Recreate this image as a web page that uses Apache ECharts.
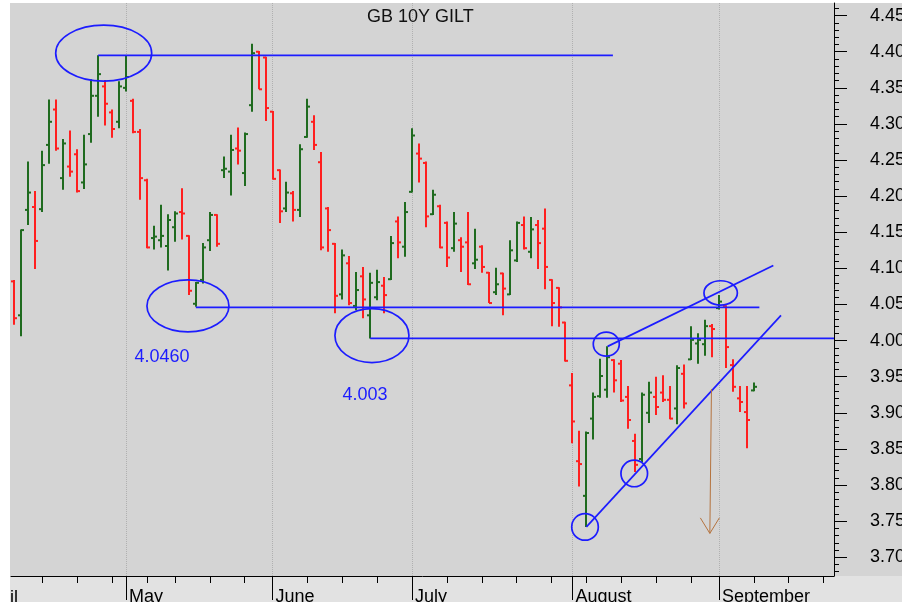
<!DOCTYPE html>
<html>
<head>
<meta charset="utf-8">
<script src="https://cdn.jsdelivr.net/npm/echarts@6/dist/echarts.min.js"></script>
<style>html,body{margin:0;padding:0;background:#fff}#c{width:902px;height:602px}</style>
</head>
<body>
<div id="c"></div>
<script>
// ---- data ----
const dates = [
 '2024-04-09','2024-04-10','2024-04-11','2024-04-12','2024-04-15','2024-04-16','2024-04-17','2024-04-18','2024-04-19','2024-04-22','2024-04-23','2024-04-24','2024-04-25','2024-04-26','2024-04-29','2024-04-30',
 '2024-05-01','2024-05-02','2024-05-03','2024-05-07','2024-05-08','2024-05-09','2024-05-10','2024-05-13','2024-05-14','2024-05-15','2024-05-16','2024-05-17','2024-05-20','2024-05-21','2024-05-22','2024-05-23','2024-05-24','2024-05-28','2024-05-29','2024-05-30','2024-05-31',
 '2024-06-03','2024-06-04','2024-06-05','2024-06-06','2024-06-07','2024-06-10','2024-06-11','2024-06-12','2024-06-13','2024-06-14','2024-06-17','2024-06-18','2024-06-19','2024-06-20','2024-06-21','2024-06-24','2024-06-25','2024-06-26','2024-06-27','2024-06-28',
 '2024-07-01','2024-07-02','2024-07-03','2024-07-04','2024-07-05','2024-07-08','2024-07-09','2024-07-10','2024-07-11','2024-07-12','2024-07-15','2024-07-16','2024-07-17','2024-07-18','2024-07-19','2024-07-22','2024-07-23','2024-07-24','2024-07-25','2024-07-26','2024-07-29','2024-07-30','2024-07-31',
 '2024-08-01','2024-08-02','2024-08-05','2024-08-06','2024-08-07','2024-08-08','2024-08-09','2024-08-12','2024-08-13','2024-08-14','2024-08-15','2024-08-16','2024-08-19','2024-08-20','2024-08-21','2024-08-22','2024-08-23','2024-08-27','2024-08-28','2024-08-29','2024-08-30',
 '2024-09-02','2024-09-03','2024-09-04','2024-09-05','2024-09-06','2024-09-09',
 '2024-09-10','2024-09-11','2024-09-12','2024-09-13','2024-09-16','2024-09-17','2024-09-18','2024-09-19','2024-09-20','2024-09-23','2024-09-24'
];
const opens = [
 4.082,4.035,4.181,4.185,4.182,4.271,4.320,4.225,4.241,4.258,
 4.219,4.286,4.339,4.352,4.316,4.303,4.350,4.332,4.289,4.222,
 4.142,4.139,4.131,4.157,4.178,4.145,4.051,4.084,4.139,4.174,
 4.236,4.234,4.266,4.232,4.326,4.400,4.392,4.317,4.236,4.183,
 4.204,4.181,4.282,4.303,4.247,4.183,4.134,4.064,4.107,4.048,
 4.089,4.035,4.060,4.076,4.085,4.165,4.130,4.206,4.259,4.246,
 4.175,4.186,4.163,4.128,4.139,4.136,4.107,4.130,4.094,4.067,
 4.093,4.064,4.111,4.160,4.123,4.160,4.155,4.084,4.073,4.025,
 3.938,3.833,3.785,3.892,3.923,3.932,3.973,3.968,3.922,3.861,
 3.836,3.900,3.922,3.928,3.918,3.906,3.954,3.974,3.996,3.995,
 4.020,4.045,4.048,3.966,3.920,3.901,3.931
];
const highs = [
 4.084,4.154,4.248,4.207,4.263,4.334,4.334,4.279,4.291,4.265,
 4.285,4.362,4.395,4.361,4.320,4.359,4.395,4.335,4.293,4.224,
 4.159,4.188,4.175,4.179,4.211,4.146,4.081,4.135,4.178,4.175,
 4.255,4.285,4.295,4.288,4.411,4.401,4.393,4.318,4.237,4.220,
 4.207,4.272,4.335,4.312,4.261,4.185,4.135,4.126,4.117,4.095,
 4.102,4.094,4.098,4.088,4.145,4.172,4.192,4.294,4.273,4.248,
 4.209,4.188,4.165,4.178,4.143,4.178,4.155,4.132,4.095,4.101,
 4.094,4.139,4.165,4.172,4.171,4.167,4.183,4.085,4.074,4.026,
 3.955,3.875,3.874,3.928,3.975,3.992,3.974,3.973,3.937,3.871,
 3.928,3.943,3.950,3.952,3.937,3.966,3.967,4.020,4.010,4.029,
 4.023,4.063,4.049,3.974,3.937,3.937,3.942
];
const lows = [
 4.022,4.006,4.160,4.099,4.178,4.245,4.263,4.209,4.227,4.205,
 4.210,4.274,4.310,4.298,4.281,4.294,4.345,4.287,4.195,4.128,
 4.126,4.129,4.097,4.137,4.140,4.063,4.047,4.079,4.124,4.130,
 4.225,4.201,4.244,4.214,4.317,4.348,4.304,4.223,4.163,4.178,
 4.165,4.171,4.281,4.264,4.125,4.123,4.038,4.057,4.049,4.042,
 4.031,4.003,4.056,4.038,4.084,4.114,4.116,4.205,4.219,4.157,
 4.174,4.128,4.102,4.123,4.095,4.077,4.099,4.094,4.052,4.063,
 4.035,4.063,4.109,4.126,4.114,4.099,4.071,4.020,4.019,3.971,
 3.858,3.798,3.742,3.863,3.921,3.921,3.928,3.915,3.878,3.818,
 3.832,3.886,3.897,3.915,3.891,3.884,3.906,3.973,3.968,3.979,
 3.977,4.043,3.962,3.929,3.901,3.851,3.930
];
const closes = [
 4.031,4.153,4.205,4.138,4.243,4.303,4.266,4.273,4.234,4.207,
 4.244,4.339,4.369,4.328,4.293,4.352,4.365,4.289,4.225,4.129,
 4.144,4.145,4.167,4.176,4.176,4.069,4.080,4.129,4.174,4.134,
 4.238,4.264,4.263,4.286,4.398,4.348,4.322,4.224,4.179,4.205,
 4.181,4.265,4.324,4.271,4.129,4.153,4.062,4.118,4.052,4.070,
 4.057,4.080,4.081,4.063,4.135,4.136,4.178,4.284,4.252,4.172,
 4.202,4.129,4.115,4.162,4.130,4.078,4.112,4.102,4.052,4.078,
 4.072,4.125,4.163,4.128,4.154,4.135,4.102,4.052,4.046,3.972,
 3.888,3.829,3.872,3.922,3.951,3.977,3.945,3.917,3.890,3.828,
 3.925,3.928,3.908,3.918,3.892,3.962,3.913,4.001,4.001,4.020,
 4.016,4.054,3.991,3.936,3.915,3.890,3.936
];
const monthNames = {'04':'April','05':'May','06':'June','07':'July','08':'August','09':'September'};
const yTickLabels = ['3.70','3.75','3.80','3.85','3.90','3.95','4.00','4.05','4.10','4.15','4.20','4.25','4.30','4.35','4.40','4.45'];
const noteTexts = ['4.0460', '4.003'];
const titleText = 'GB 10Y GILT';

// ---- annotation geometry (category index, yield) ----
const hLines = [
  {from: 12, to: 85.8, level: 4.395},
  {from: 26, to: 106.8, level: 4.046},
  {from: 51, to: 117.5, level: 4.003}
];
const ellipses = [
  {i: 12.79, v: 4.398, rx: 48, ry: 28},
  {i: 24.87, v: 4.048, rx: 41, ry: 26},
  {i: 51.25, v: 4.007, rx: 37, ry: 27},
  {i: 84.85, v: 3.995, rx: 13, ry: 12},
  {i: 101.25, v: 4.066, rx: 16.7, ry: 12.2},
  {i: 81.8, v: 3.742, rx: 13.3, ry: 13.3},
  {i: 88.86, v: 3.816, rx: 13.3, ry: 13.3}
];
const trendLines = [
  [[85.05, 3.992], [108.8, 4.104]],
  [[82, 3.742], [109.9, 4.035]]
];
const arrowLine = [[99.93, 3.933], [99.7, 3.733]];
const notePos = [[21.15, 3.977], [50.25, 3.925]];

const GREEN = '#1f6b1f', RED = '#ff1f1f', BLUE = '#1c1cff', BROWN = '#b5733e';
const FONT = '"Liberation Sans", Arial, sans-serif';

const month = d => d.slice(5, 7);
const isMonthStart = idx => idx > 0 && month(dates[idx]) !== month(dates[idx - 1]);
const dow = d => new Date(d + 'T00:00:00Z').getUTCDay();
const isWeekStart = idx => idx > 0 && dow(dates[idx]) <= dow(dates[idx - 1]);

const majorTicks = yTickLabels.map(Number);
const minorTicks = [];
for (let k = 368; k <= 446; k++) minorTicks.push(k / 100);

const ohlcData = opens.map((o, k) => [k, o, highs[k], lows[k], closes[k]]);

function renderBar(params, api) {
  const i = api.value(0);
  const o = api.value(1), h = api.value(2), l = api.value(3), c = api.value(4);
  const pH = api.coord([i, h]), pL = api.coord([i, l]);
  const pO = api.coord([i, o]), pC = api.coord([i, c]);
  const x = Math.round(pH[0]);
  const style = {stroke: c >= o ? GREEN : RED, lineWidth: 2};
  return {type: 'group', children: [
    {type: 'line', shape: {x1: x, y1: pH[1], x2: x, y2: pL[1]}, style},
    {type: 'line', shape: {x1: x - 3, y1: pO[1], x2: x, y2: pO[1]}, style},
    {type: 'line', shape: {x1: x, y1: pC[1], x2: x + 3, y2: pC[1]}, style}
  ]};
}

function P(api, i, v) {
  const k = Math.floor(i);
  const p = api.coord([k, v]);
  const bw = api.size([1, 0])[0];
  return [p[0] + (i - k) * bw, p[1]];
}

function renderAnnotations(params, api) {
  const ch = [];
  const seg = (a, b, stroke, w) => ch.push({type: 'line',
    shape: {x1: a[0], y1: a[1], x2: b[0], y2: b[1]}, style: {stroke, lineWidth: w}});
  hLines.forEach(h => seg(P(api, h.from, h.level), P(api, h.to, h.level), BLUE, 1.7));
  trendLines.forEach(t => seg(P(api, t[0][0], t[0][1]), P(api, t[1][0], t[1][1]), BLUE, 1.7));
  ellipses.forEach(e => {
    const c = P(api, e.i, e.v);
    ch.push({type: 'ellipse', shape: {cx: c[0], cy: c[1], rx: e.rx, ry: e.ry},
      style: {stroke: BLUE, fill: 'none', lineWidth: 1.7}});
  });
  const a0 = P(api, arrowLine[0][0], arrowLine[0][1]);
  const a1 = P(api, arrowLine[1][0], arrowLine[1][1]);
  seg(a0, a1, BROWN, 1);
  seg([a1[0] - 9.5, a1[1] - 15.5], a1, BROWN, 1);
  seg([a1[0] + 9.5, a1[1] - 15.5], a1, BROWN, 1);
  noteTexts.forEach((t, k) => {
    const p = P(api, notePos[k][0], notePos[k][1]);
    ch.push({type: 'text', style: {text: t, x: p[0], y: p[1], fill: BLUE,
      font: '18px ' + FONT, textAlign: 'center', textVerticalAlign: 'middle'}});
  });
  return {type: 'group', children: ch};
}

const chart = echarts.init(document.getElementById('c'), null, {renderer: 'canvas'});
const yBase = {type: 'value', position: 'right', min: 3.674, max: 4.4675, scale: true, splitLine: {show: false}};
chart.setOption({
  animation: false,
  backgroundColor: '#ffffff',
  title: {text: titleText, left: 367, top: 8, padding: 0,
    textStyle: {fontSize: 18, fontWeight: 'normal', color: '#111', fontFamily: FONT}},
  graphic: [
    {type: 'rect', z: -10, silent: true, shape: {x: 10, y: 3, width: 892, height: 573}, style: {fill: '#d4d4d4'}},
    {type: 'rect', z: -10, silent: true, shape: {x: 10, y: 576, width: 892, height: 26}, style: {fill: '#e2e2e2'}},
    {type: 'text', z: 5, silent: true, style: {text: monthNames['04'].slice(3), x: 10, y: 589,
      font: '18px ' + FONT, fill: '#000', textVerticalAlign: 'top'}}
  ],
  grid: {left: 11, right: 68, top: 3, bottom: 26, containLabel: false, outerBoundsMode: 'none', show: false},
  xAxis: [
    {type: 'category', data: dates, position: 'bottom', boundaryGap: true,
     axisLine: {show: true, lineStyle: {color: '#000', width: 1}},
     axisTick: {show: true, alignWithLabel: true, interval: isWeekStart, length: 7, lineStyle: {color: '#000'}},
     axisLabel: {show: false}, splitLine: {show: false}},
    {type: 'category', data: dates, position: 'bottom', boundaryGap: true,
     axisLine: {show: false},
     axisTick: {show: true, alignWithLabel: true, interval: isMonthStart, length: 24, lineStyle: {color: '#000'}},
     axisLabel: {show: true, interval: isMonthStart, formatter: v => monthNames[month(v)],
       align: 'left', padding: [0, 0, 0, 3], margin: 12, fontSize: 18, color: '#000', fontFamily: FONT},
     splitLine: {show: true, alignWithLabel: true, interval: isMonthStart,
       lineStyle: {type: 'dotted', color: '#b0b0b0', width: 1}}}
  ],
  yAxis: [
    Object.assign({}, yBase, {
      axisLine: {show: true, lineStyle: {color: '#000'}},
      axisTick: {show: true, length: 13, customValues: majorTicks, lineStyle: {color: '#000'}},
      axisLabel: {show: true, customValues: majorTicks, formatter: v => yTickLabels[majorTicks.indexOf(+(+v).toFixed(2))] || (+v).toFixed(2),
        margin: 36, padding: [3, 0, 0, 0], fontSize: 18, color: '#000', fontFamily: FONT}
    }),
    Object.assign({}, yBase, {
      axisLine: {show: false},
      axisTick: {show: true, length: 5, customValues: minorTicks, lineStyle: {color: '#000'}},
      axisLabel: {show: false}
    })
  ],
  series: [
    {type: 'custom', name: 'GB 10Y', xAxisIndex: 0, yAxisIndex: 0, renderItem: renderBar,
     encode: {x: 0, y: [1, 2, 3, 4]}, data: ohlcData, z: 2},
    {type: 'custom', name: 'annotations', xAxisIndex: 0, yAxisIndex: 0, renderItem: renderAnnotations,
     data: [[0, 4.0]], z: 3, silent: true}
  ]
});
</script>
</body>
</html>
